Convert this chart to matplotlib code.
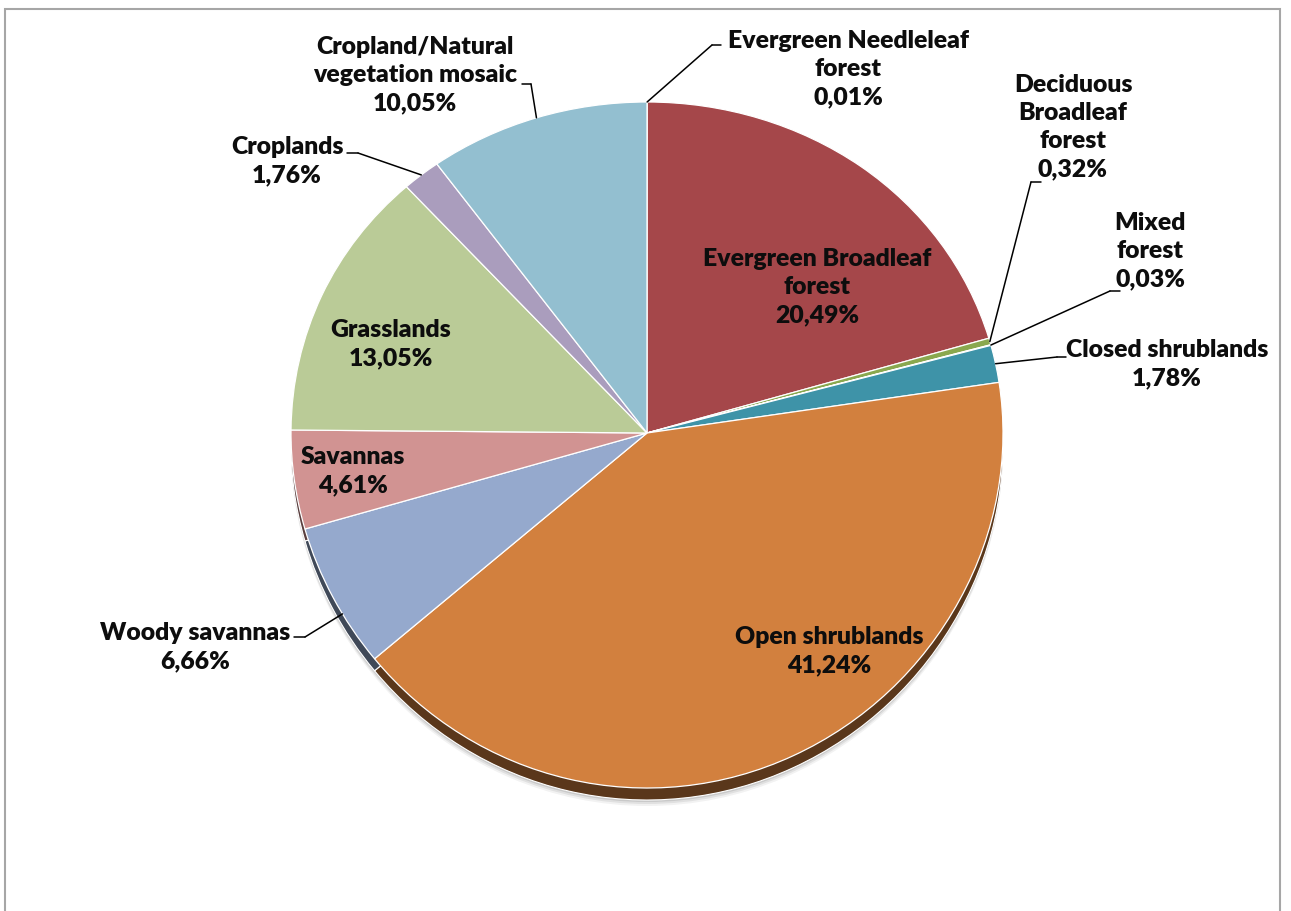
#!/usr/bin/env python3

import numpy as np
import matplotlib
matplotlib.use('Agg')
import matplotlib.pyplot as plt
import matplotlib.transforms as mtransforms
from matplotlib.patches import Rectangle

# land cover classes, clockwise from 12 o'clock
categories = [
    'Evergreen Needleleaf\nforest',
    'Evergreen Broadleaf\nforest',
    'Deciduous\nBroadleaf\nforest',
    'Mixed\nforest',
    'Closed shrublands',
    'Open shrublands',
    'Woody savannas',
    'Savannas',
    'Grasslands',
    'Croplands',
    'Cropland/Natural\nvegetation mosaic',
]
shares = [0.01, 20.49, 0.32, 0.03, 1.78, 41.24, 6.66, 4.61, 13.05, 1.76, 10.05]
colors = ['#4A7EBB', '#A5474A', '#8AA84F', '#7B5E9C', '#3E93A8', '#D2803E',
          '#95A9CD', '#D19392', '#BACB97', '#AA9DBD', '#93BFD0']

W, H, DPI = 1291, 911, 100
CX, CY, R = 647, 433, 356      # pie centre and radius in pixels (from top-left)
DEPTH = 12                      # thickness of the disc edge in pixels

# label layout in pixels from the top-left corner:
# (centre x, first line y, last line y, leader elbow, stub end, position along slice)
layout = {
    0: (848, 37, 101, (712, 45), (721, 45), 0.5),
    1: (817, 254, 320, None, None, None),
    2: (1073, 79, 175, (1031, 182), (1041, 182), 0.5),
    3: (1150, 218, 284, (1110, 291), (1120, 291), 0.5),
    4: (1167, 348, 380, (1057, 357), (1066, 357), 0.5),
    5: (829, 635, 667, None, None, None),
    6: (195, 631, 663, (305, 637), (294, 637), 0.37),
    7: (353, 455, 488, None, None, None),
    8: (391, 328, 361, None, None, None),
    9: (287, 145, 178, (358, 153), (347, 153), 0.5),
    10: (415, 43, 108, (531, 84), (522, 84), 0.5),
}

# slight perspective: the far (top) half of the disc is squashed
K, C = 0.9635, 0.0337


def tilt(y):
    return K * y - C * y ** 2


def untilt(g):
    return (K - np.sqrt(np.clip(K ** 2 - 4 * C * g, 0, None))) / (2 * C)


def darker(hexcolor, f):
    rgb = np.array(matplotlib.colors.to_rgb(hexcolor))
    return tuple(rgb * f)


def fmt_pct(v):
    return f'{v:.2f}'.replace('.', ',') + '%'


plt.rcParams['font.family'] = ['Lato', 'DejaVu Sans']
fig = plt.figure(figsize=(W / DPI, H / DPI), dpi=DPI)
ax = fig.add_axes([0, 0, 1, 1])
ax.set_yscale('function', functions=(tilt, untilt))


def shift(px):
    return ax.transData + mtransforms.ScaledTranslation(0, -px / DPI, fig.dpi_scale_trans)


# soft grey shadow under the disc
for off, a in [(DEPTH + 6, 0.05), (DEPTH + 4, 0.07), (DEPTH + 2, 0.10)]:
    sw, _ = ax.pie([1], colors=['#000000'], startangle=90,
                   wedgeprops=dict(linewidth=0, alpha=a, zorder=1))
    for w in sw:
        w.set_transform(shift(off))

# disc edge
edge_wedges, _ = ax.pie(shares, colors=[darker(c, 0.43) for c in colors],
                        startangle=90, counterclock=False,
                        wedgeprops=dict(edgecolor='white', linewidth=0.8, zorder=2))
for w in edge_wedges:
    w.set_transform(shift(DEPTH))

# top face
wedges, _ = ax.pie(shares, colors=colors, startangle=90, counterclock=False,
                   wedgeprops=dict(edgecolor='white', linewidth=0.9, zorder=3))

ax.set_aspect('auto')
ax.set_xlim(-CX / R, (W - CX) / R)
ax.set_ylim(untilt((CY - H) / R), untilt(CY / R))
ax.axis('off')

text_kw = dict(ha='center', va='center', fontsize=17.8, fontweight='heavy',
               color='#0D0D0D', linespacing=1.35, multialignment='center')

for i, (name, v) in enumerate(zip(categories, shares)):
    x, y0, y1, elbow, stub, frac = layout[i]
    fig.text(x / W, 1 - (y0 + y1) / 2 / H, name + '\n' + fmt_pct(v),
             transform=fig.transFigure, zorder=5, **text_kw)
    if elbow is None:
        continue
    w = wedges[i]
    ang = np.deg2rad(w.theta2 - frac * (w.theta2 - w.theta1))
    ax.annotate('', xy=(np.cos(ang), np.sin(ang)), xycoords='data',
                xytext=(elbow[0], H - elbow[1]), textcoords='figure pixels',
                arrowprops=dict(arrowstyle='-', color='black', lw=1.1,
                                shrinkA=0, shrinkB=0), zorder=4)
    ax.annotate('', xy=(stub[0], H - stub[1]), xycoords='figure pixels',
                xytext=(elbow[0], H - elbow[1]), textcoords='figure pixels',
                arrowprops=dict(arrowstyle='-', color='black', lw=1.1,
                                shrinkA=0, shrinkB=0), zorder=4)

# chart area border
fig.add_artist(Rectangle((5, -10), 1275, H - 9 + 10, fill=False,
                         edgecolor='#A6A6A6', linewidth=1.5,
                         transform=mtransforms.IdentityTransform()))

fig.savefig('out.png', dpi=DPI)
